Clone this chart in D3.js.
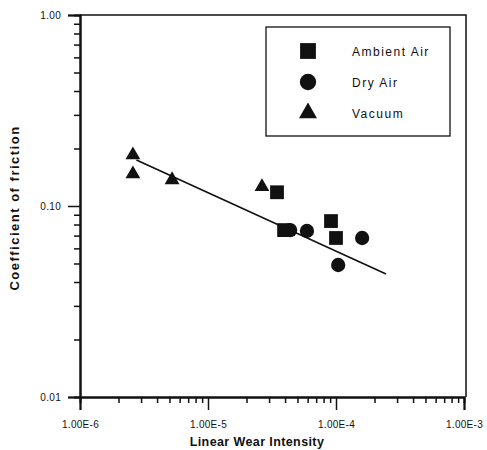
<!DOCTYPE html>
<html>
<head>
<meta charset="utf-8">
<script src="https://cdn.jsdelivr.net/npm/d3@7"></script>
<style>
  html, body { margin: 0; padding: 0; background: #fff; }
  svg { display: block; }
  text { font-family: "Liberation Sans", Arial, sans-serif; fill: #111; }
</style>
</head>
<body>
<svg id="chart" width="487" height="450"></svg>
<script>
// ---- data ----
const ambientWear = [3.46e-5, 3.93e-5, 9.14e-5, 1.0e-4];
const ambientCoef = [0.118, 0.0748, 0.0834, 0.068];
const dryWear = [4.38e-5, 5.93e-5, 1.6e-4, 1.04e-4];
const dryCoef = [0.0748, 0.074, 0.068, 0.0491];
const vacuumWear = [2.59e-6, 2.59e-6, 5.24e-6, 2.64e-5];
const vacuumCoef = [0.185, 0.147, 0.137, 0.126];
const fitWear = [2.76e-6, 2.46e-4];
const fitCoef = [0.174, 0.044];
const xTickValues = [1e-6, 1e-5, 1e-4, 1e-3];
const xTickLabels = ["1.00E-6", "1.00E-5", "1.00E-4", "1.00E-3"];
const yTickValues = [0.01, 0.1, 1];
const yTickLabels = ["0.01", "0.10", "1.00"];
const seriesNames = ["Ambient Air", "Dry Air", "Vacuum"];
const seriesShapes = ["square", "circle", "triangle"];

// ---- layout ----
const L = 80, R = 464, T = 15, B = 397;
const svg = d3.select("#chart");
const x = d3.scaleLog().domain([1e-6, 1e-3]).range([L, R]);
const y = d3.scaleLog().domain([0.01, 1]).range([B, T]);

// frame (top and right)
svg.append("path")
  .attr("d", `M${L},${T}H${R + 2}V${B}`)
  .attr("fill", "none").attr("stroke", "#111").attr("stroke-width", 1.5);

// minor tick values
const xMinor = [], yMinor = [];
for (let e = -6; e < -3; e++) for (let k = 2; k <= 9; k++) xMinor.push(k * Math.pow(10, e));
for (let e = -2; e < 0; e++) for (let k = 2; k <= 9; k++) yMinor.push(k * Math.pow(10, e));

// x axis
const xAxis = svg.append("g").attr("transform", `translate(0,${B})`);
xAxis.call(d3.axisBottom(x).tickValues(xMinor).tickSize(6).tickFormat(""));
xAxis.append("g").call(d3.axisBottom(x).tickValues(xTickValues).tickSize(13)
  .tickFormat((d, i) => xTickLabels[i]).tickPadding(11));
xAxis.selectAll(".domain").attr("stroke-width", 2).attr("stroke", "#111");
xAxis.selectAll("line").attr("stroke", "#111").attr("stroke-width", 1.5);
xAxis.selectAll("text").attr("font-size", 10).attr("letter-spacing", 0.3)
  .style("font-family", "'Liberation Sans', Arial, sans-serif").attr("fill", "#111");

// y axis
const yAxis = svg.append("g").attr("transform", `translate(${L},0)`);
yAxis.call(d3.axisLeft(y).tickValues(yMinor).tickSize(6).tickFormat(""));
yAxis.append("g").call(d3.axisLeft(y).tickValues(yTickValues).tickSize(12)
  .tickFormat((d, i) => yTickLabels[i]).tickPadding(7));
yAxis.selectAll(".domain").attr("stroke-width", 2).attr("stroke", "#111");
yAxis.selectAll("line").attr("stroke", "#111").attr("stroke-width", 1.5);
yAxis.selectAll("text").attr("font-size", 10).attr("letter-spacing", 0.3)
  .style("font-family", "'Liberation Sans', Arial, sans-serif").attr("fill", "#111");

// axis titles
svg.append("text").attr("x", 257).attr("y", 446).attr("text-anchor", "middle")
  .attr("font-size", 12.5).attr("font-weight", "bold").attr("letter-spacing", 0.4)
  .text("Linear Wear Intensity");
svg.append("text").attr("transform", "translate(19,208) rotate(-90)")
  .attr("text-anchor", "middle")
  .attr("font-size", 13).attr("font-weight", "bold").attr("letter-spacing", 1.5)
  .text("Coefficient of friction");

// fit line
svg.append("path")
  .datum(fitWear.map((w, i) => [w, fitCoef[i]]))
  .attr("d", d3.line().x(d => x(d[0])).y(d => y(d[1])))
  .attr("stroke", "#111").attr("stroke-width", 1.6).attr("fill", "none");

// markers
const symType = { square: d3.symbolSquare, circle: d3.symbolCircle, triangle: d3.symbolTriangle };
const symSize = { square: 190, circle: 160, triangle: 95 };
function drawSeries(wear, coef, shape) {
  svg.append("g").selectAll("path")
    .data(wear.map((w, i) => [w, coef[i]]))
    .join("path")
    .attr("transform", d => `translate(${x(d[0])},${y(d[1])})`)
    .attr("d", d3.symbol().type(symType[shape]).size(symSize[shape]))
    .attr("fill", "#111");
}
drawSeries(vacuumWear, vacuumCoef, "triangle");
drawSeries(ambientWear, ambientCoef, "square");
drawSeries(dryWear, dryCoef, "circle");

// legend
const lg = svg.append("g");
lg.append("rect").attr("x", 266).attr("y", 27).attr("width", 184).attr("height", 109)
  .attr("fill", "#fff").attr("stroke", "#111").attr("stroke-width", 1.3);
const legendSize = { square: 250, circle: 210, triangle: 140 };
seriesNames.forEach((name, i) => {
  const cy = 51 + i * 31;
  lg.append("path").attr("transform", `translate(308,${cy})`)
    .attr("d", d3.symbol().type(symType[seriesShapes[i]]).size(legendSize[seriesShapes[i]]))
    .attr("fill", "#111");
  lg.append("text").attr("x", 352).attr("y", cy + 4.5).attr("font-size", 12)
    .attr("letter-spacing", 1.5).text(name);
});
</script>
</body>
</html>
